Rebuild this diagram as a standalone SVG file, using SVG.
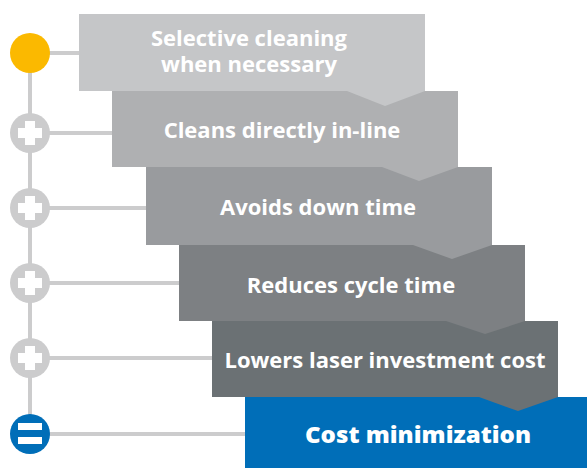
<svg xmlns="http://www.w3.org/2000/svg" width="587" height="468" viewBox="0 0 587 468">
  <style>
    .lbl { font-family: "Open Sans", "Liberation Sans", sans-serif; font-weight: 700; font-size: 22px; fill: #ffffff; text-anchor: middle; }
    .big { font-weight: 800; font-size: 23px; }
    .conn { stroke: #cccccd; stroke-width: 4; fill: none; }
    .plus { fill: #cccccd; }
    .mark { fill: #ffffff; }
  </style>
  <rect width="587" height="468" fill="#ffffff"/>
  <g id="connectors">
    <line class="conn" x1="30" y1="53" x2="30" y2="434"/>
    <line class="conn" x1="30" y1="53" x2="80" y2="53"/>
    <line class="conn" x1="30" y1="133" x2="113" y2="133"/>
    <line class="conn" x1="30" y1="208" x2="147" y2="208"/>
    <line class="conn" x1="30" y1="283" x2="180" y2="283"/>
    <line class="conn" x1="30" y1="358" x2="213" y2="358"/>
    <line class="conn" x1="30" y1="434" x2="246" y2="434"/>
  </g>
  <g id="markers">
    <circle cx="30" cy="53" r="20" fill="#fbb900"/>
    <g id="plus1"><circle class="plus" cx="30" cy="133" r="20"/><rect class="mark" x="18" y="128" width="24" height="10"/><rect class="mark" x="25" y="121" width="10" height="24"/></g>
    <g id="plus2"><circle class="plus" cx="30" cy="208" r="20"/><rect class="mark" x="18" y="203" width="24" height="10"/><rect class="mark" x="25" y="196" width="10" height="24"/></g>
    <g id="plus3"><circle class="plus" cx="30" cy="283" r="20"/><rect class="mark" x="18" y="278" width="24" height="10"/><rect class="mark" x="25" y="271" width="10" height="24"/></g>
    <g id="plus4"><circle class="plus" cx="30" cy="358" r="20"/><rect class="mark" x="18" y="353" width="24" height="10"/><rect class="mark" x="25" y="346" width="10" height="24"/></g>
    <g id="equals"><circle cx="30" cy="434" r="20" fill="#006eb8"/><rect class="mark" x="18" y="423" width="24" height="7"/><rect class="mark" x="18" y="437" width="24" height="7"/></g>
  </g>
  <g id="box6">
    <rect x="245" y="397" width="342" height="71" fill="#006eb8"/>
    <text class="lbl big" x="418" y="443" textLength="226" lengthAdjust="spacingAndGlyphs">Cost minimization</text>
  </g>
  <g id="box5">
    <path d="M212 321 H558 V397 L518 411 L479 397 H212 Z" fill="#6b7174"/>
    <text class="lbl" x="385" y="368">Lowers laser investment cost</text>
  </g>
  <g id="box4">
    <path d="M179 245 H525 V321 L485 334 L446 321 H179 Z" fill="#7d8083"/>
    <text class="lbl" x="351" y="293">Reduces cycle time</text>
  </g>
  <g id="box3">
    <path d="M146 167 H492 V245 L452 259 L413 245 H146 Z" fill="#999b9e"/>
    <text class="lbl" x="318" y="215">Avoids down time</text>
  </g>
  <g id="box2">
    <path d="M112 91 H458 V167 L419 181 L382 167 H112 Z" fill="#afb0b2"/>
    <text class="lbl" x="282" y="138">Cleans directly in-line</text>
  </g>
  <g id="box1">
    <path d="M79 14 H425 V91 L385 106 L347 91 H79 Z" fill="#c5c6c8"/>
    <text class="lbl" x="249" y="46"><tspan x="249" y="46">Selective cleaning</tspan><tspan x="249" y="72">when necessary</tspan></text>
  </g>
</svg>
